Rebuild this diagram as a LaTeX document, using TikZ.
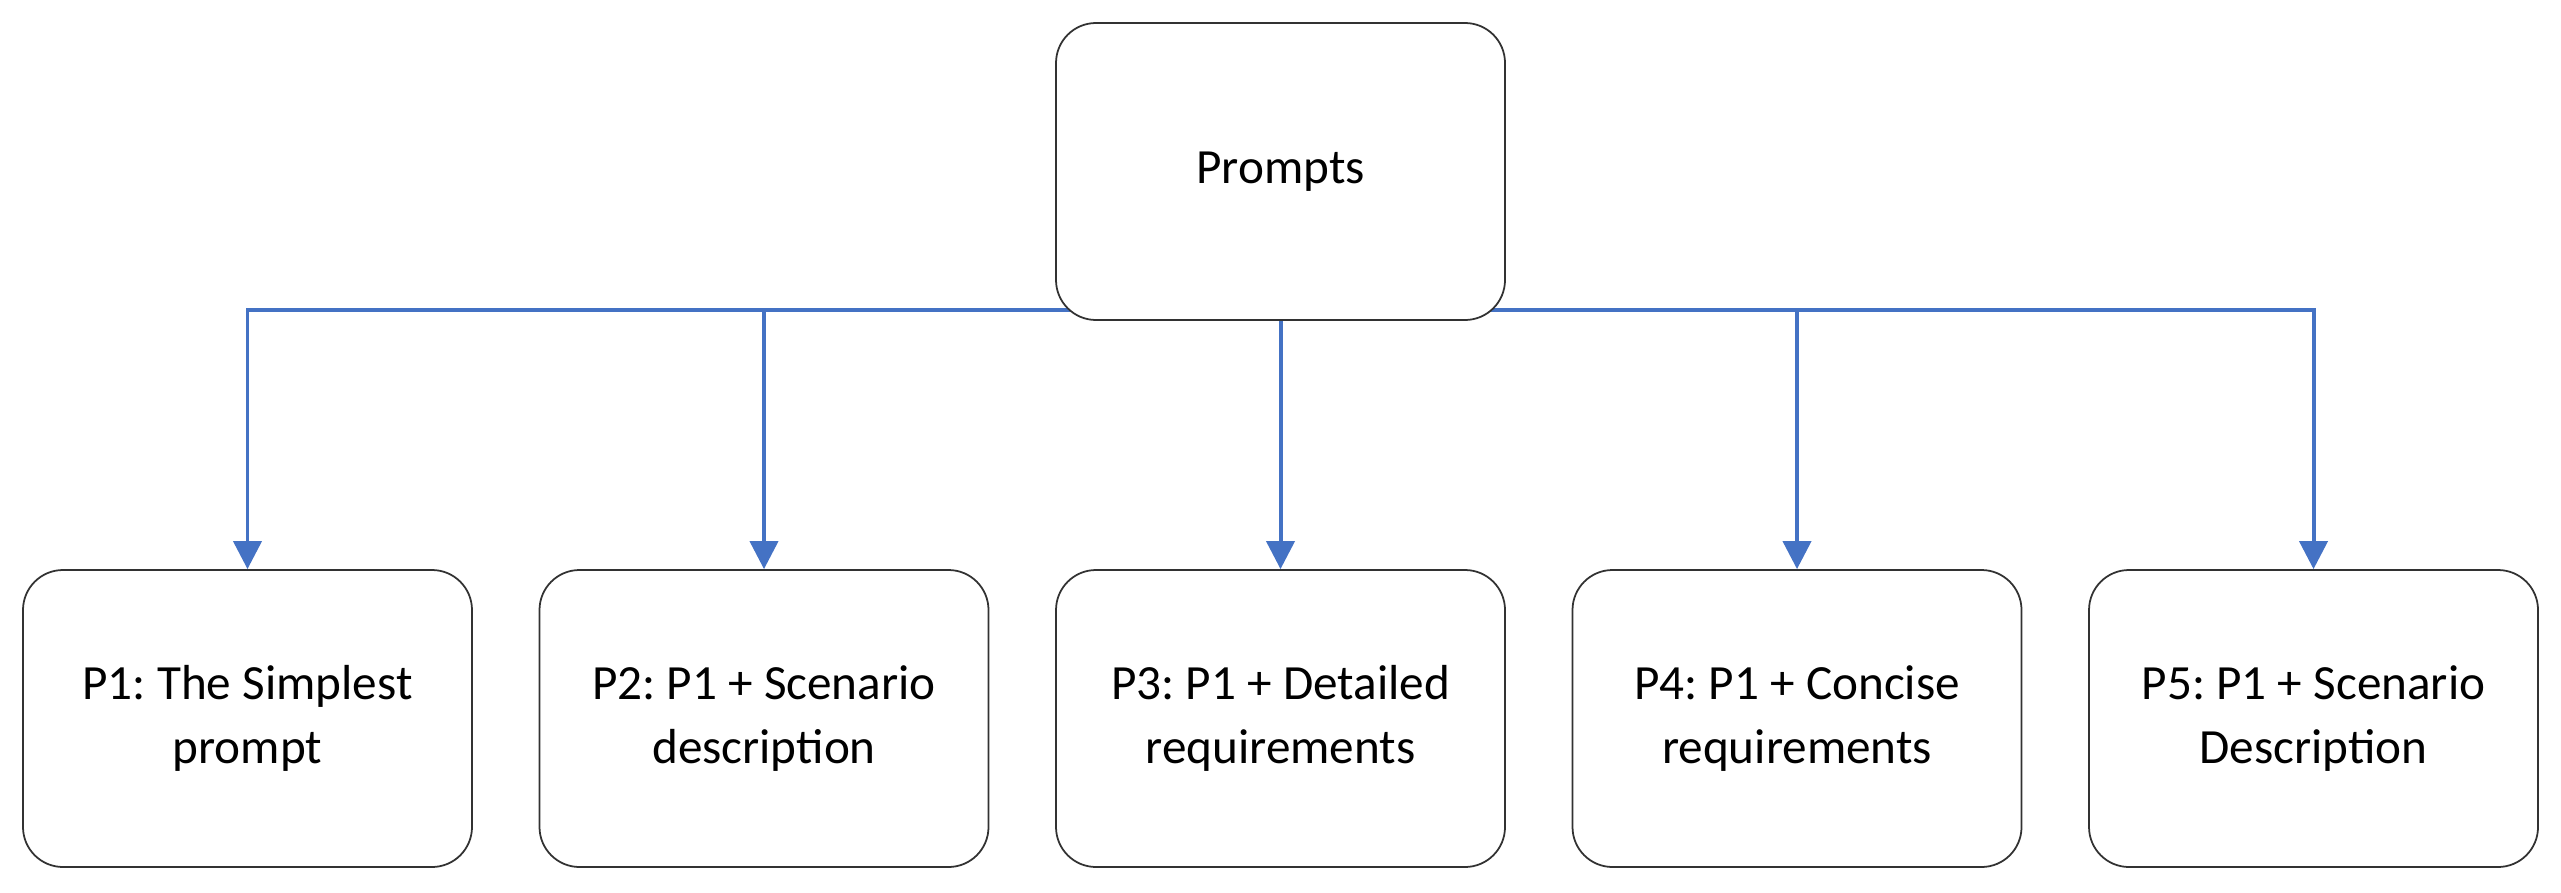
\documentclass[tikz,border=0pt]{standalone}
\usepackage{fontspec}
\setmainfont{Carlito}
\usepackage{xcolor}
\definecolor{myblue}{RGB}{68,114,196}
\definecolor{mygray}{RGB}{50,50,50}
\usepackage{tikz}
\usetikzlibrary{arrows.meta}
\usetikzlibrary{backgrounds}
\usetikzlibrary{calc}
\frenchspacing
\newcommand{\widthbox}{4.49cm}
\newcommand{\heightbox}{2.97cm}
\newcommand{\stepbox}{5.165cm}
\tikzset{
    common/.style={draw=mygray, fill=white, rectangle, rounded corners=0.4cm, line width=0.5pt, align=center, font=\fontsize{14}{18.3}\selectfont},
    promptbox/.style={common, minimum width=\widthbox, minimum height=\heightbox},
    link/.style={myblue, line width=1.13pt, -{Triangle[width=0.28cm, length=0.28cm]}}
}

\begin{document}
\begin{tikzpicture}
    \useasboundingbox (0,0) rectangle (25.61,-8.92);
    \node[promptbox] (root) at (12.805,-1.715) {Prompts};
    \path
        (2.475,-7.185) node[promptbox] (p1) {P1: The Simplest\\prompt}
        ++(0:\stepbox) node[promptbox] (p2) {P2: P1 + Scenario\\description}
        ++(0:\stepbox) node[promptbox] (p3) {P3: P1 + Detailed\\requirements}
        ++(0:\stepbox) node[promptbox] (p4) {P4: P1 + Concise\\requirements}
        ++(0:\stepbox) node[promptbox] (p5) {P5: P1 + Scenario\\Description};

    \coordinate (hub) at ($(root.south)+(0,0.11)$);
    \begin{scope}[on background layer]
        \foreach \p in {p1,p2,p3,p4,p5}
            \draw[link] (hub) -| (\p.north);
    \end{scope}
\end{tikzpicture}
\end{document}
